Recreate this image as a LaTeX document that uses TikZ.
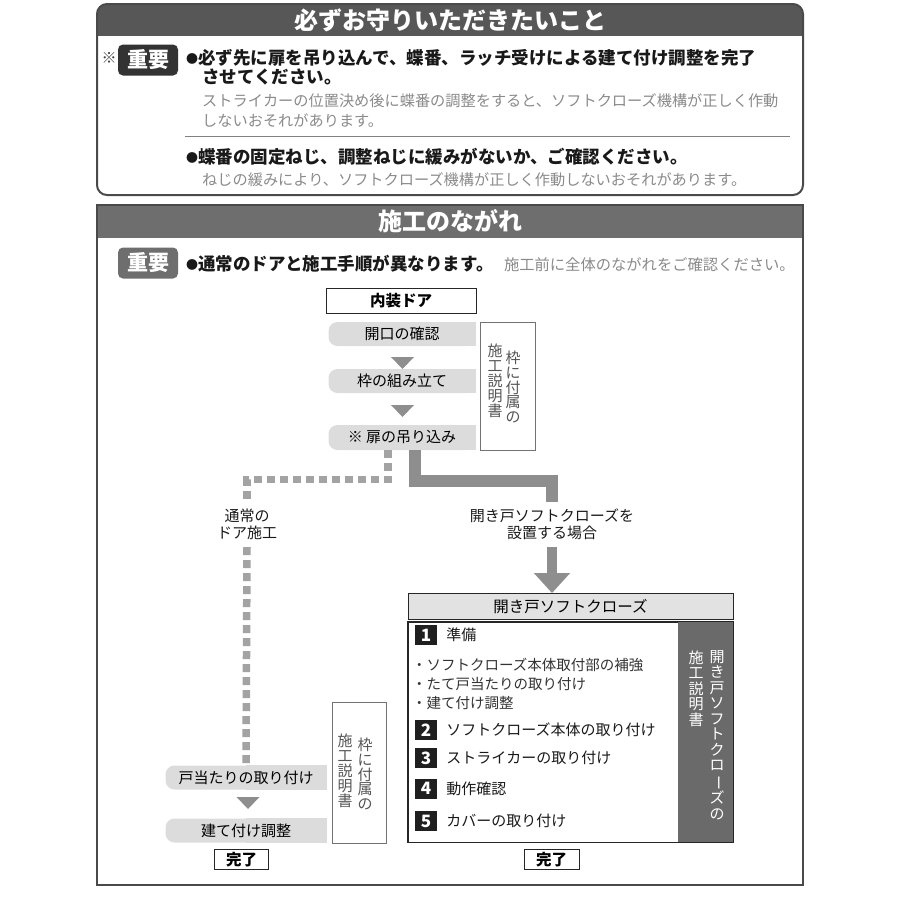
\documentclass[tikz,border=0pt]{standalone}
\usepackage{fontspec}
\setmainfont{Noto Sans CJK JP}
\usepackage{graphicx}
\usetikzlibrary{backgrounds,calc,arrows.meta}
\definecolor{hdrA}{HTML}{575757}
\definecolor{hdrB}{HTML}{6E6E6E}
\definecolor{frameA}{HTML}{4A4A4A}
\definecolor{pillg}{HTML}{DCDCDC}
\definecolor{arrg}{HTML}{8E8E8E}
\definecolor{dashg}{HTML}{A3A3A3}
\definecolor{txtg}{HTML}{8A8A8A}
\definecolor{panelg}{HTML}{6A6A6A}
\definecolor{subhdr}{HTML}{E2E2E2}
\definecolor{vtg}{HTML}{555555}
\newcommand\jf[1]{\fontsize{#1pt}{#1pt}\selectfont}
\newcommand\jfv[2]{\fontsize{#1pt}{#2pt}\selectfont}
\newcommand\vbar{\rotatebox[origin=c]{-90}{ー}}
\newcommand\bul{{\jf{12}\raisebox{1pt}{●}}}
\tikzset{
  hdrtext/.style={text=white,font=\jf{24}\bfseries},
  badge/.style={minimum width=60pt,minimum height=31pt,rounded corners=5pt,text=white,font=\jf{21}\bfseries},
  btext/.style={anchor=west,font=\jf{17.5}\bfseries,text=black!90},
  gtext/.style={anchor=west,font=\jf{15.2},text=txtg},
  box/.style={draw=black!85,line width=0.9pt,fill=white,font=\jf{15.5}\bfseries},
  pill/.style={fill=pillg,rounded corners=9pt,minimum width=147pt,minimum height=24pt,font=\jf{15},text=black},
  sidebox/.style={draw=black!55,line width=0.8pt,fill=white},
  vtxt/.style={align=center,font=\jfv{15}{14.9},text=vtg},
  dashline/.style={dashg,line width=7.5pt,dash pattern=on 8pt off 5pt},
  solidline/.style={arrg,line width=12pt},
  lab/.style={align=center,font=\jfv{15}{17},text=black!90,inner ysep=7pt},
  numbadge/.style={fill=black!88,text=white,font=\jf{17}\bfseries,minimum width=22pt,minimum height=20pt},
  itemtext/.style={anchor=west,font=\jf{15},text=black!90},
  subtext/.style={anchor=west,font=\jf{14.5},text=black!80},
  tri/.style={fill=arrg}
}
\begin{document}
\begin{tikzpicture}[x=1pt,y=-1pt,every node/.style={inner sep=0pt}]
\useasboundingbox (0,0) rectangle (900,900);

% ---------- top box ----------
\begin{scope}
  \clip[rounded corners=10pt] (97,4) rectangle (803,195);
  \fill[hdrA] (97,4) rectangle (803,36);
\end{scope}
\draw[frameA,line width=2pt,rounded corners=10pt] (97,4) rectangle (803,195);
\node[hdrtext] (title1) at (450,20) {必ずお守りいただきたいこと};
\node[font=\jf{15},text=black!75] (kome) at (109,58) {※};
\node[badge,fill=black!80] (imp1) at (148,60) {重要};
\node[btext] (b1) at (186,58) {\bul 必ず先に扉を吊り込んで、蝶番、ラッチ受けによる建て付け調整を完了};
\node[btext] (b1b) at (202,77) {させてください。};
\node[gtext] (g1) at (202,101) {ストライカーの位置決め後に蝶番の調整をすると、ソフトクローズ機構が正しく作動};
\node[gtext] (g1b) at (202,121) {しないおそれがあります。};
\draw[black!50,line width=0.8pt] (185,136) -- (790,136);
\node[btext] (b2) at (186,157) {\bul 蝶番の固定ねじ、調整ねじに緩みがないか、ご確認ください。};
\node[gtext] (g2) at (202,180) {ねじの緩みにより、ソフトクローズ機構が正しく作動しないおそれがあります。};

% ---------- bottom box ----------
\fill[hdrB] (97,205) rectangle (803,238);
\draw[frameA,line width=2.5pt] (97,205) rectangle (803,885);
\node[hdrtext] (title2) at (450,221) {施工のながれ};
\node[badge,fill=hdrB] (imp2) at (148,263) {重要};
\node[btext] (b3) at (186,264) {\bul 通常のドアと施工手順が異なります。};
\node[anchor=base west,font=\jf{15.3},text=txtg] (g3) at ([xshift=10pt]b3.base east) {施工前に全体のながれをご確認ください。};

% flow top
\node[box,minimum width=150pt,minimum height=25pt] (door) at (401,300.5) {内装ドア};
\node[pill] (p1) at (402,334) {開口の確認};
\node[pill] (p2) at (402,381) {枠の組み立て};
\node[pill,minimum height=25pt] (p3) at (402,437.5) {※ 扉の吊り込み};
\begin{pgfonlayer}{background}
  \fill[pillg] (p1.north) rectangle (p1.south east);
  \fill[pillg] (p2.north) rectangle (p2.south east);
  \fill[pillg] (p3.north) rectangle (p3.south east);
\end{pgfonlayer}
\fill[tri] (391,357) -- (414,357) -- (402.5,369) -- cycle;
\fill[tri] (391,405) -- (414,405) -- (402.5,417) -- cycle;
\node[sidebox,minimum width=55pt,minimum height=128pt] (sb1) at (508,386) {};
\node[vtxt] (sb1r) at (513,387) {枠\\に\\付\\属\\の};
\node[vtxt] (sb1l) at (495,381) {施\\工\\説\\明\\書};

% branch labels
\node[lab] (lab1) at (247,524.5) {通常の\\ドア施工};
\node[lab] (lab2) at (552,524.5) {開き戸ソフトクローズを\\設置する場合};

% left flow
\node[pill,minimum width=161pt] (todari) at (246,777.5) {戸当たりの取り付け};
\node[pill,minimum width=161pt] (tateuke) at (246,830.5) {建て付け調整};
\begin{pgfonlayer}{background}
  \fill[pillg] (todari.north) rectangle (todari.south east);
  \fill[pillg] (tateuke.north) rectangle (tateuke.south east);
\end{pgfonlayer}
\fill[tri] (236.5,797) -- (259.5,797) -- (248,809) -- cycle;
\node[box,minimum width=54pt,minimum height=20pt] (done1) at (241.5,859.5) {完了};
\node[sidebox,minimum width=54pt,minimum height=141pt] (sb2) at (359,772.5) {};
\node[vtxt] (sb2r) at (365,774) {枠\\に\\付\\属\\の};
\node[vtxt] (sb2l) at (345,771) {施\\工\\説\\明\\書};

% connectors
\draw[dashline] ([xshift=-14pt]p3.south) -- ++(0,29.5) -| (lab1.north);
\draw[dashline] (lab1.south) -- (todari.north);
\draw[solidline] ([xshift=13pt]p3.south) -- ++(0,31) -| (lab2.north);

% soft close block
\node[box,fill=subhdr,font=\jf{15.5},minimum width=325pt,minimum height=26pt] (sch) at (570.5,606.5) {開き戸ソフトクローズ};
\draw[arrg,line width=10pt,-{Triangle[width=35pt,length=20pt]}] (lab2.south) -- (lab2.south |- sch.north);
\node[box,minimum width=325pt,minimum height=220pt] (scm) at (570.5,732) {};
\node[fill=panelg,minimum width=55pt,minimum height=220pt] (panel) at (705.5,732) {};
\draw[black!85,line width=0.9pt] (scm.north west) rectangle (scm.south east);
\node[vtxt,text=white,font=\jfv{15}{15.5}] (pr) at (717,735) {開\\き\\戸\\ソ\\フ\\ト\\ク\\ロ\\\vbar\\ズ\\の};
\node[vtxt,text=white,font=\jfv{15}{15.5}] (pl) at (696,688.5) {施\\工\\説\\明\\書};

\node[numbadge] (n1) at (426,635) {1};
\node[itemtext] (i1) at ([xshift=9pt]n1.east) {準備};
\node[subtext] (s1) at (412,665) {・ソフトクローズ本体取付部の補強};
\node[subtext] (s2) at (412,684) {・たて戸当たりの取り付け};
\node[subtext] (s3) at (412,703) {・建て付け調整};
\node[numbadge] (n2) at (426,730) {2};
\node[itemtext] (i2) at ([xshift=9pt]n2.east) {ソフトクローズ本体の取り付け};
\node[numbadge] (n3) at (426,758) {3};
\node[itemtext] (i3) at ([xshift=9pt]n3.east) {ストライカーの取り付け};
\node[numbadge] (n4) at (426,788.5) {4};
\node[itemtext] (i4) at ([xshift=9pt]n4.east) {動作確認};
\node[numbadge] (n5) at (426,821) {5};
\node[itemtext] (i5) at ([xshift=9pt]n5.east) {カバーの取り付け};

\node[box,minimum width=55pt,minimum height=20pt] (done2) at (551.5,859.5) {完了};
\end{tikzpicture}
\end{document}
